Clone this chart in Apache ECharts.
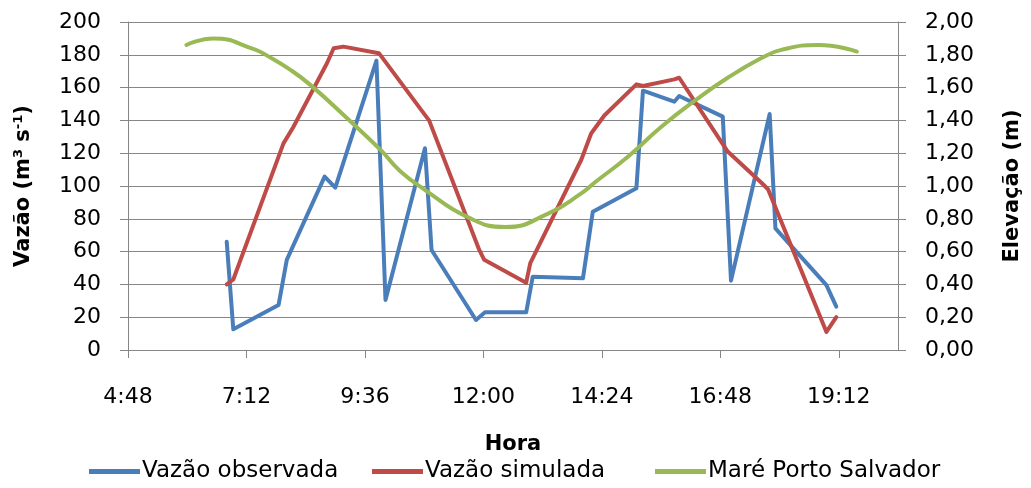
<!DOCTYPE html>
<html>
<head>
<meta charset="utf-8">
<script src="https://cdn.jsdelivr.net/npm/echarts@6/dist/echarts.min.js"></script>
<style>
  html, body { margin: 0; padding: 0; background: #fff; }
  #chart { width: 1031px; height: 488px; }
</style>
</head>
<body>
<div id="chart"></div>
<script>
// values (time as H:MM)
const obsTimes = ['6:48','6:56','7:51','8:01','8:47','9:00','9:50','10:01','10:49','10:57','11:51','12:02','12:52','13:00',
  '14:01','14:13','15:06','15:14','15:52','15:58','16:51','17:01','17:48','17:55','18:57','19:09'];
const obsValues = [66, 12.6, 27.4, 55, 105.7, 99, 176.4, 30.5, 123, 61, 18.3, 23, 23, 44.7,
  43.7, 84.3, 98.6, 158.1, 151.4, 154.9, 142.3, 42.3, 143.9, 74.2, 39.6, 26.4];

const simTimes = ['6:48','6:56','7:57','8:09','8:50','8:58','9:10','9:53','10:48','10:54','11:55','12:01','12:52','12:57',
  '13:59','14:11','14:27','15:06','15:14','15:52','15:58','16:57','17:38','17:46','18:57','19:09'];
const simValues = [40, 43, 126, 136, 175, 184, 185, 181, 144, 140, 61, 55, 41, 53,
  116, 132, 143, 162, 161, 165, 166, 121, 102, 98, 11, 20];

const tideTimes = ['5:59','6:32','7:21','7:37','8:05','8:30','9:15','9:55','10:19','10:48','11:41','12:27','13:18','13:59',
  '14:15','14:56','15:36','16:17','16:57','17:38','18:02','18:47','19:34'];
const tideValues = [1.86, 1.90, 1.835, 1.795, 1.71, 1.615, 1.41, 1.22, 1.09, 0.98, 0.81, 0.75, 0.83, 0.955,
  1.02, 1.18, 1.36, 1.52, 1.66, 1.78, 1.83, 1.86, 1.82];

const seriesNames = ['Vazão observada', 'Vazão simulada', 'Maré Porto Salvador'];
const seriesColors = ['#4A7EBB', '#BE4B48', '#98B954'];
const legendLeft = [89, 372, 655];

const toMin = (t) => {
  const p = t.split(':');
  return parseInt(p[0]) * 60 + parseInt(p[1]);
};
const pairs = (times, vals) => times.map((t, i) => [toMin(t), vals[i]]);
const fmtTime = (v) => Math.floor(v / 60) + ':' + String(Math.round(v % 60)).padStart(2, '0');

const FONT = '"DejaVu Sans", sans-serif';
const gray = '#868686';

const chart = echarts.init(document.getElementById('chart'));

const lineSeries = (i, data, axis, smooth) => ({
  name: seriesNames[i],
  type: 'line',
  yAxisIndex: axis,
  data: data,
  smooth: smooth,
  showSymbol: false,
  symbol: 'none',
  color: seriesColors[i],
  lineStyle: { width: 4, color: seriesColors[i], cap: 'round', join: 'round' },
  animation: false
});

// one legend per item, so each sits where the original puts it
const legends = seriesNames.map((name, i) => ({
  top: 460,
  left: legendLeft[i],
  padding: 0,
  itemWidth: 51,
  itemHeight: 5,
  icon: 'rect',
  textStyle: { fontFamily: FONT, fontSize: 23, color: '#000', padding: [0, 0, 0, -3] },
  data: [name]
}));

chart.setOption({
  backgroundColor: '#fff',
  textStyle: { fontFamily: FONT, color: '#000' },
  grid: { left: 128, right: 133, top: 22, bottom: 138, outerBoundsMode: 'none' },
  legend: legends,
  xAxis: {
    type: 'value',
    min: 288,
    max: 1224,
    interval: 144,
    name: 'Hora',
    nameLocation: 'middle',
    nameGap: 84,
    nameTextStyle: { fontFamily: FONT, fontSize: 21, fontWeight: 'bold', color: '#000' },
    axisLine: { show: true, lineStyle: { color: gray } },
    axisTick: { show: true, length: 8, lineStyle: { color: gray } },
    splitLine: { show: false },
    axisLabel: {
      margin: 36,
      fontSize: 22,
      color: '#000',
      fontFamily: FONT,
      showMaxLabel: false,
      formatter: fmtTime
    }
  },
  yAxis: [
    {
      type: 'value',
      min: 0,
      max: 200,
      interval: 20,
      name: '{a|Vazão (m}{s|3}{a| s}{s|-1}{a|)}',
      nameLocation: 'middle',
      nameRotate: 90,
      nameGap: 93,
      nameTextStyle: {
        rich: {
          a: { fontFamily: FONT, fontSize: 21, fontWeight: 'bold', color: '#000' },
          s: { fontFamily: FONT, fontSize: 13, fontWeight: 'bold', color: '#000', verticalAlign: 'top', padding: [0, 0, 10, 0] }
        }
      },
      axisLine: { show: true, lineStyle: { color: gray } },
      axisTick: { show: true, length: 8, lineStyle: { color: gray } },
      splitLine: { show: true, lineStyle: { color: gray, width: 1 } },
      axisLabel: { margin: 27, fontSize: 22, color: '#000', fontFamily: FONT }
    },
    {
      type: 'value',
      min: 0,
      max: 2,
      interval: 0.2,
      name: 'Elevação (m)',
      nameLocation: 'middle',
      nameRotate: 90,
      nameGap: 104,
      nameTextStyle: { fontFamily: FONT, fontSize: 21, fontWeight: 'bold', color: '#000' },
      axisLine: { show: true, lineStyle: { color: gray } },
      axisTick: { show: true, length: 8, lineStyle: { color: gray } },
      splitLine: { show: false },
      axisLabel: {
        margin: 27,
        fontSize: 22,
        color: '#000',
        fontFamily: FONT,
        formatter: (v) => v.toFixed(2).replace('.', ',')
      }
    }
  ],
  series: [
    lineSeries(0, pairs(obsTimes, obsValues), 0, false),
    lineSeries(1, pairs(simTimes, simValues), 0, false),
    lineSeries(2, pairs(tideTimes, tideValues), 1, true)
  ]
});
</script>
</body>
</html>
